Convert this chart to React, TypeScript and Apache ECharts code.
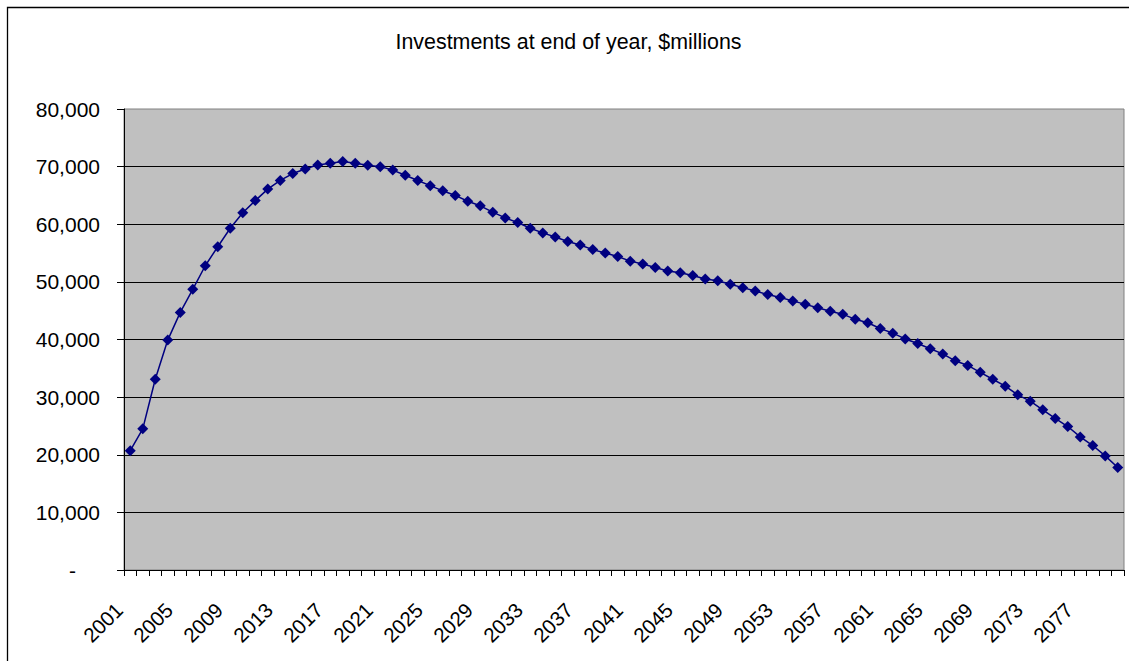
import React, { useEffect, useRef } from "react";
import * as echarts from "echarts";

// Year-end balances, $ millions
const years: string[] = [
  "2001", "2002", "2003", "2004", "2005", "2006", "2007", "2008", "2009", "2010",
  "2011", "2012", "2013", "2014", "2015", "2016", "2017", "2018", "2019", "2020",
  "2021", "2022", "2023", "2024", "2025", "2026", "2027", "2028", "2029", "2030",
  "2031", "2032", "2033", "2034", "2035", "2036", "2037", "2038", "2039", "2040",
  "2041", "2042", "2043", "2044", "2045", "2046", "2047", "2048", "2049", "2050",
  "2051", "2052", "2053", "2054", "2055", "2056", "2057", "2058", "2059", "2060",
  "2061", "2062", "2063", "2064", "2065", "2066", "2067", "2068", "2069", "2070",
  "2071", "2072", "2073", "2074", "2075", "2076", "2077", "2078", "2079", "2080",
];

const investments: number[] = [
  20700, 24500, 33100, 39900, 44700, 48700, 52800, 56100, 59300, 62000,
  64100, 66100, 67600, 68800, 69600, 70300, 70600, 70900, 70600, 70250,
  70000, 69400, 68500, 67600, 66700, 65800, 65000, 64000, 63200, 62100,
  61100, 60300, 59300, 58500, 57800, 57000, 56400, 55600, 55000, 54400,
  53600, 53100, 52500, 51900, 51600, 51100, 50500, 50200, 49600, 49000,
  48400, 47800, 47300, 46700, 46100, 45500, 44900, 44400, 43500, 42900,
  41900, 41100, 40100, 39300, 38400, 37500, 36300, 35500, 34300, 33100,
  31900, 30400, 29300, 27800, 26300, 24900, 23100, 21600, 19800, 17800,
];

const yMin = 0;
const yMax = 80000;
const yStep = 10000;

const chartTitle = "Investments at end of year, $millions";

const FONT = "'Liberation Sans', Arial, Helvetica, sans-serif";

export default function App() {
  const ref = useRef<HTMLDivElement>(null);

  useEffect(() => {
    if (!ref.current) return;
    const chart = echarts.init(ref.current, null, { renderer: "svg" });

    chart.setOption({
      animation: false,
      backgroundColor: "#ffffff",
      textStyle: { fontFamily: FONT },
      grid: {
        left: 124,
        right: 5,
        top: 109,
        bottom: 91,
        show: true,
        backgroundColor: "#C0C0C0",
        borderColor: "#808080",
        borderWidth: 1,
      },
      xAxis: {
        type: "category",
        data: years,
        boundaryGap: true,
        axisLine: { show: true, lineStyle: { color: "#000000", width: 1 } },
        axisTick: {
          show: true,
          interval: 0,
          length: 6,
          lineStyle: { color: "#000000", width: 1 },
        },
        axisLabel: {
          interval: 3,
          rotate: 45,
          margin: 25,
          padding: [0, 16, 0, 0],
          fontSize: 20.5,
          color: "#000000",
          fontFamily: FONT,
        },
        splitLine: { show: false },
      },
      yAxis: {
        type: "value",
        min: yMin,
        max: yMax,
        interval: yStep,
        axisLine: { show: true, lineStyle: { color: "#000000", width: 1 } },
        axisTick: { show: true, length: 7, lineStyle: { color: "#000000", width: 1 } },
        axisLabel: {
          margin: 24,
          fontSize: 21,
          color: "#000000",
          fontFamily: FONT,
          formatter: (v: number) =>
            v === 0 ? "{dash|-}" : v.toLocaleString("en-US"),
          rich: {
            dash: {
              fontSize: 21,
              color: "#000000",
              fontFamily: FONT,
              padding: [0, 24, 0, 0],
            },
          },
        },
        splitLine: {
          show: true,
          showMinLine: false,
          showMaxLine: false,
          lineStyle: { color: "#000000", width: 1 },
        },
      },
      series: [
        {
          type: "line",
          data: investments,
          symbol: "diamond",
          symbolSize: 11,
          showAllSymbol: true,
          itemStyle: { color: "#000080" },
          lineStyle: { color: "#000080", width: 1.5 },
          z: 3,
        },
      ],
      graphic: [
        {
          type: "rect",
          silent: true,
          shape: { x: 7.5, y: 7.5, width: 1200, height: 700 },
          style: { fill: "none", stroke: "#000000", lineWidth: 1.3 },
          z: 100,
        },
        {
          type: "text",
          silent: true,
          x: 568.5,
          y: 42,
          style: {
            text: chartTitle,
            fontSize: 21.4,
            fontFamily: FONT,
            fill: "#000000",
            align: "center",
            verticalAlign: "middle",
          },
          z: 100,
        },
      ],
    });

    return () => chart.dispose();
  }, []);

  return (
    <div
      ref={ref}
      style={{ position: "fixed", left: 0, top: 0, width: 1129, height: 661 }}
    />
  );
}
